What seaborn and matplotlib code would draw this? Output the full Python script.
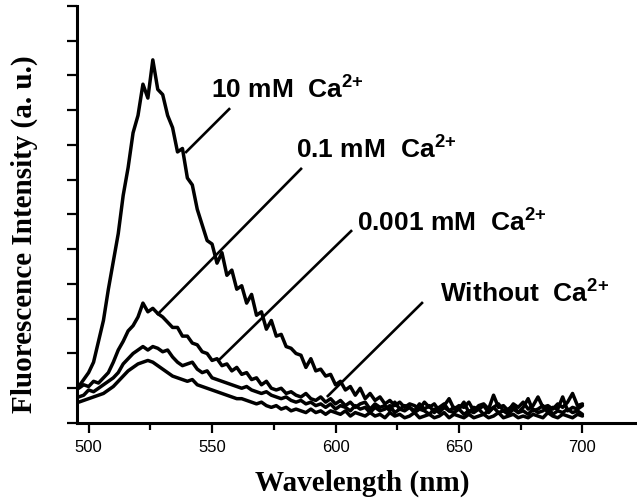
import numpy as np
import pandas as pd
import matplotlib
matplotlib.use("Agg")
import matplotlib.pyplot as plt
import seaborn as sns

# wavelength grid (nm), 2 nm step
wavelength = np.arange(496, 701, 2)

# intensities (a. u.); one tick = 1 unit
int_10mM = [
    1.05, 1.25, 1.45, 1.75, 2.35, 2.95, 3.85, 4.65, 5.45, 6.55,   # 496-514
    7.35, 8.35, 8.85, 9.75, 9.35, 10.45, 9.6, 9.45, 8.85, 8.5,    # 516-534
    7.8, 7.9, 7.05, 6.85, 6.15, 5.7, 5.25, 5.15, 4.6, 4.9,        # 536-554
    4.25, 4.4, 3.85, 3.95, 3.45, 3.7, 3.1, 3.2, 2.7, 2.95,        # 556-574
    2.5, 2.55, 2.2, 2.15, 2.0, 1.95, 1.6, 1.85, 1.5, 1.55,        # 576-594
    1.35, 1.4, 1.1, 1.2, 0.95, 1.05, 0.8, 1.0, 0.7, 0.85,         # 596-614
    0.65, 0.75, 0.55, 0.65, 0.5, 0.6, 0.45, 0.55, 0.5, 0.4,       # 616-634
    0.6, 0.45, 0.55, 0.35, 0.5, 0.7, 0.4, 0.5, 0.45, 0.6,         # 636-654
    0.35, 0.5, 0.55, 0.4, 0.8, 0.45, 0.5, 0.35, 0.55, 0.45,       # 656-674
    0.6, 0.4, 0.5, 0.75, 0.45, 0.5, 0.4, 0.55, 0.45, 0.6,         # 676-694
    0.85, 0.5, 0.55,                                              # 696-700
]
int_01mM = [
    1.0, 1.1, 1.05, 1.2, 1.15, 1.3, 1.45, 1.75, 2.1, 2.35,
    2.65, 2.8, 3.05, 3.45, 3.2, 3.3, 3.15, 3.05, 2.9, 2.75,
    2.75, 2.5, 2.5, 2.3, 2.25, 2.05, 2.0, 1.8, 1.85, 1.65,
    1.7, 1.5, 1.6, 1.4, 1.45, 1.25, 1.3, 1.1, 1.2, 1.0,
    0.95, 1.0, 0.85, 0.9, 0.8, 0.75, 0.85, 0.7, 0.65, 0.75,
    0.6, 0.7, 0.55, 0.65, 0.5, 0.6, 0.45, 0.55, 0.6, 0.4,
    0.55, 0.45, 0.5, 0.35, 0.6, 0.4, 0.5, 0.45, 0.35, 0.55,
    0.4, 0.5, 0.3, 0.45, 0.55, 0.35, 0.45, 0.4, 0.6, 0.3,
    0.45, 0.4, 0.5, 0.3, 0.45, 0.55, 0.35, 0.4, 0.5, 0.3,
    0.45, 0.7, 0.35, 0.4, 0.5, 0.3, 0.45, 0.4, 0.75, 0.35,
    0.45, 0.4, 0.5,
]
int_0001mM = [
    0.75, 0.8, 0.95, 0.9, 1.0, 1.1, 1.2, 1.3, 1.45, 1.7,
    1.85, 2.0, 2.1, 2.2, 2.1, 2.2, 2.15, 2.05, 2.1, 1.9,
    1.75, 1.65, 1.7, 1.75, 1.55, 1.45, 1.5, 1.3, 1.25, 1.2,
    1.15, 1.1, 1.05, 1.0, 1.05, 0.95, 0.9, 0.85, 0.9, 0.8,
    0.75, 0.7, 0.75, 0.65, 0.6, 0.65, 0.55, 0.6, 0.5, 0.55,
    0.45, 0.55, 0.4, 0.5, 0.45, 0.35, 0.5, 0.4, 0.45, 0.3,
    0.45, 0.35, 0.4, 0.5, 0.3, 0.4, 0.35, 0.45, 0.3, 0.4,
    0.35, 0.25, 0.4, 0.3, 0.45, 0.35, 0.3, 0.4, 0.25, 0.35,
    0.3, 0.4, 0.25, 0.35, 0.45, 0.3, 0.35, 0.25, 0.4, 0.3,
    0.35, 0.25, 0.4, 0.3, 0.35, 0.45, 0.25, 0.35, 0.3, 0.4,
    0.3, 0.35, 0.25,
]
int_without = [
    0.6, 0.65, 0.7, 0.75, 0.8, 0.85, 0.95, 1.05, 1.2, 1.35,
    1.5, 1.6, 1.7, 1.75, 1.8, 1.75, 1.65, 1.55, 1.45, 1.35,
    1.3, 1.25, 1.2, 1.25, 1.1, 1.05, 1.0, 0.95, 0.9, 0.85,
    0.8, 0.75, 0.7, 0.7, 0.65, 0.6, 0.55, 0.6, 0.5, 0.45,
    0.5, 0.4, 0.45, 0.35, 0.4, 0.35, 0.3, 0.4, 0.3, 0.35,
    0.25, 0.35, 0.3, 0.25, 0.35, 0.2, 0.3, 0.25, 0.2, 0.3,
    0.2, 0.25, 0.15, 0.3, 0.2, 0.25, 0.15, 0.2, 0.3, 0.15,
    0.2, 0.25, 0.15, 0.2, 0.3, 0.15, 0.25, 0.2, 0.15, 0.25,
    0.15, 0.2, 0.25, 0.15, 0.2, 0.3, 0.15, 0.2, 0.25, 0.15,
    0.2, 0.15, 0.25, 0.2, 0.15, 0.3, 0.2, 0.15, 0.25, 0.2,
    0.15, 0.25, 0.2,
]

labels = ["10 mM  Ca", "0.1 mM  Ca", "0.001 mM  Ca", "Without  Ca"]
x_ticks = [500, 550, 600, 650, 700]

# label text anchor (nm, a.u.), leader line start -> end
label_pos = [(549.6, 9.35), (584.0, 7.65), (608.7, 5.55), (642.3, 3.48)]
leader_start = [(557.3, 9.06), (586.4, 7.34), (606.7, 5.55), (635.4, 3.48)]
leader_end = [(539.1, 7.77), (527.7, 3.11), (552.6, 1.80), (596.5, 0.75)]

sns.set_style("ticks")
plt.rcParams["font.family"] = ["Liberation Sans", "DejaVu Sans"]
for k in ["text.color", "axes.labelcolor", "xtick.color", "ytick.color", "axes.edgecolor"]:
    plt.rcParams[k] = "black"

fig = plt.figure(figsize=(6.37, 4.99), dpi=100)
ax = fig.add_axes([0.1209, 0.1523, 0.8791, 0.8357])

for vals in [int_10mM, int_01mM, int_0001mM, int_without]:
    assert len(vals) == len(wavelength)
    df = pd.DataFrame({"wl": wavelength, "I": vals})
    sns.lineplot(data=df, x="wl", y="I", color="black", lw=2.5, ax=ax)

for txt, (tx, ty), (sx, sy), (ex, ey) in zip(labels, label_pos, leader_start, leader_end):
    ax.text(tx, ty, txt + r"$^{\mathregular{2{+}}}$", fontsize=19, fontweight="bold",
            ha="left", va="baseline")
    ax.plot([sx, ex], [sy, ey], color="black", lw=1.9, solid_capstyle="butt")

ax.set_xlim(495.3, 722.1)
ax.set_ylim(0, 12)
ax.set_xticks(x_ticks)
ax.set_xticks([525, 575, 625, 675], minor=True)
ax.set_yticks(np.arange(0, 13, 1))
ax.set_yticklabels([])
ax.tick_params(axis="x", which="major", length=7, width=1.6, labelsize=12, pad=5)
ax.tick_params(axis="x", which="minor", length=5, width=1.6)
ax.tick_params(axis="y", length=7, width=1.6)

for s in ["top", "right"]:
    ax.spines[s].set_visible(False)
for s in ["left", "bottom"]:
    ax.spines[s].set_linewidth(2.2)

ax.set_xlabel("Wavelength (nm)", family="Liberation Serif", fontweight="bold",
              fontsize=21, va="top")
ax.xaxis.set_label_coords(0.509, -0.113)
ax.set_ylabel("Fluorescence Intensity (a. u.)", family="Liberation Serif",
              fontweight="bold", fontsize=21)
ax.yaxis.set_label_coords(-0.07, 0.453)

fig.savefig("out.png", dpi=100)
